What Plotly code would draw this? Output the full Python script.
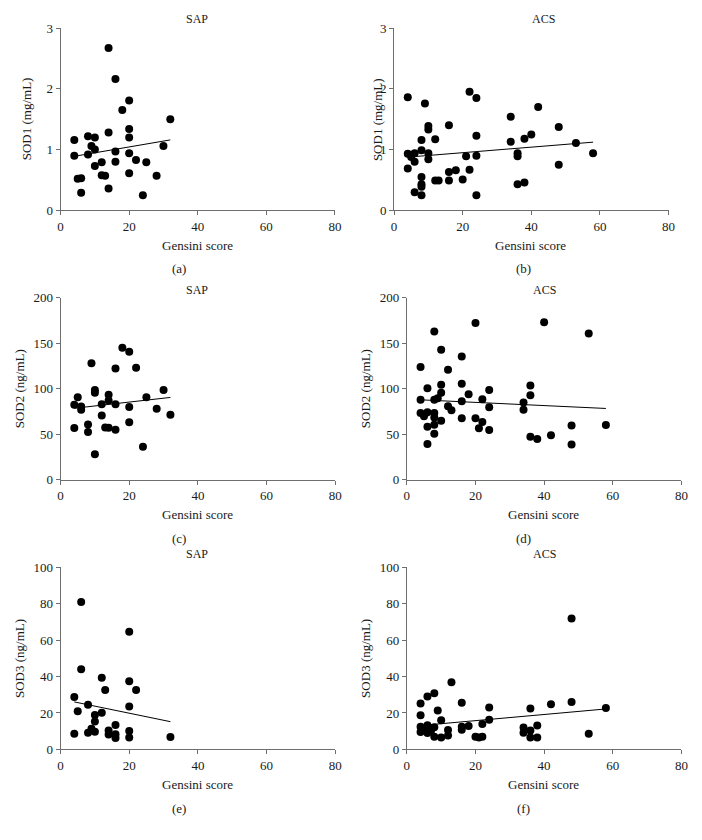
import numpy as np
import plotly.graph_objects as go

# ---------------- data ----------------
gensini_ticks = [0, 20, 40, 60, 80]

# (a) SOD1, SAP
sod1_sap_x = [14, 16, 20, 18, 32, 20, 14, 8, 10, 20, 4, 9, 30, 10, 16, 20, 4, 8, 22, 12, 16, 25,
              10, 20, 12, 13, 28, 5, 6, 14, 6, 24]
sod1_sap_y = [2.67, 2.16, 1.81, 1.65, 1.50, 1.34, 1.28, 1.22, 1.20, 1.20, 1.16, 1.06, 1.06, 1.00,
              0.97, 0.94, 0.90, 0.92, 0.83, 0.79, 0.80, 0.79, 0.73, 0.61, 0.58, 0.57, 0.57, 0.52,
              0.53, 0.36, 0.29, 0.25]

# (b) SOD1, ACS
sod1_acs_x = [4, 9, 22, 24, 34, 10, 10, 16, 8, 12, 24, 34, 38, 40, 42, 48, 53, 58, 48, 4, 8, 6,
              10, 5, 6, 10, 21, 24, 36, 36, 4, 22, 18, 16, 8, 8, 8, 12, 13, 16, 20, 36, 38, 6, 8, 24]
sod1_acs_y = [1.86, 1.76, 1.95, 1.85, 1.54, 1.39, 1.33, 1.40, 1.16, 1.17, 1.23, 1.13, 1.18, 1.25,
              1.70, 1.37, 1.11, 0.94, 0.75, 0.93, 0.99, 0.94, 0.94, 0.88, 0.80, 0.84, 0.89, 0.90,
              0.94, 0.89, 0.69, 0.67, 0.66, 0.63, 0.55, 0.43, 0.39, 0.49, 0.49, 0.49, 0.51, 0.43,
              0.46, 0.30, 0.25, 0.25]

# (c) SOD2, SAP
sod2_sap_x = [18, 20, 9, 16, 22, 10, 10, 30, 5, 14, 14, 25, 4, 6, 6, 12, 16, 20, 28, 32, 12, 8,
              8, 4, 13, 14, 16, 20, 24, 10]
sod2_sap_y = [145, 140.6, 128, 122.3, 123, 98.5, 95.6, 98.5, 90.6, 93.5, 87, 90.6, 82.3, 80.5,
              77, 83, 83, 80, 78, 71.5, 70.5, 60.8, 52.5, 56.8, 57.5, 57, 55, 63.2, 36.3, 28]

# (d) SOD2, ACS
sod2_acs_x = [8, 20, 40, 53, 10, 16, 4, 12, 6, 10, 16, 36, 24, 10, 18, 36, 4, 8, 9, 16, 22, 34,
              34, 12, 13, 24, 4, 5, 6, 8, 8, 10, 16, 20, 22, 6, 8, 8, 21, 24, 36, 38, 42, 48, 58,
              6, 48]
sod2_acs_y = [163, 172.3, 173, 160.8, 142.8, 135.3, 124, 120.9, 100.4, 104.3, 105.4, 103.6, 98.6,
              95.7, 93.9, 92.8, 87.8, 87.8, 89.6, 86.3, 88.5, 84.9, 77, 80.6, 76.3, 79.5, 73.4,
              69.8, 74.1, 73.4, 68.3, 64.7, 67.6, 67.6, 63.3, 58.3, 60.4, 50.4, 56.5, 54.7, 47.1,
              44.6, 48.9, 59.7, 60.1, 39.2, 38.8]

# (e) SOD3, SAP
sod3_sap_x = [4, 4, 5, 6, 6, 8, 8, 9, 10, 10, 10, 12, 12, 13, 14, 14, 16, 16, 16, 20, 20, 20, 20,
              20, 22, 32]
sod3_sap_y = [8.6, 28.8, 21, 81, 44, 24.6, 9.2, 11.3, 18.9, 15.3, 9.7, 39.4, 20.2, 32.7, 10.4,
              8.2, 13.4, 8.3, 6.2, 64.6, 37.4, 23.6, 10.1, 6.5, 32.6, 6.8]

# (f) SOD3, ACS
sod3_acs_x = [48, 13, 8, 6, 4, 16, 42, 48, 4, 9, 24, 36, 58, 10, 24, 18, 16, 16, 22, 38, 34, 34,
              36, 36, 38, 53, 20, 21, 22, 12, 12, 10, 8, 8, 4, 6, 6, 5, 7, 4]
sod3_acs_y = [71.9, 36.9, 30.9, 29.1, 25.2, 25.7, 24.8, 26, 18.7, 21.4, 23, 22.5, 22.7, 16, 16.3,
              12.8, 12.4, 10.8, 14, 13.1, 12, 9.2, 10.4, 6.5, 6.5, 8.6, 7, 6.5, 7, 10.7, 7.7, 6.5,
              12.2, 7, 9.5, 13.3, 9, 11, 10, 12.5]

# linear trend lines as drawn in the reference (slope, intercept), panels a..f
trend_slope = [0.00964, 0.00456, 0.426, -0.176, -0.388, 0.169]
trend_intercept = [0.851, 0.858, 76.8, 88.5, 27.65, 12.42]

# ---------------- layout helpers ----------------
# page body keeps its default 8px margin -> figure sized to fill the 702x840 window exactly
PAGE_MARGIN = 8
W, H = 702 - 2 * PAGE_MARGIN, 840 - 2 * PAGE_MARGIN
FONT = "Liberation Serif, Times New Roman, serif"
AXIS_COLOR = "#6e6e6e"
TEXT_COLOR = "#1a1a1a"


def px(x):
    return (x - PAGE_MARGIN) / W


def py(y):
    return 1 - (y - PAGE_MARGIN) / H


panels = [
    dict(x=sod1_sap_x, y=sod1_sap_y, title="SAP", ylabel="SOD1 (mg/mL)", label="(a)",
         yrange=[0, 3], dtick=1, xdom=(58.3, 336.7), ydom=(21.3, 207),
         title_xy=(196.7, 12), ytitle_x=23.3, xtitle_xy=(197.7, 243), label_xy=(178.3, 266)),
    dict(x=sod1_acs_x, y=sod1_acs_y, title="ACS", ylabel="SOD1 (mg/mL)", label="(b)",
         yrange=[0, 3], dtick=1, xdom=(396.7, 675.3), ydom=(21.3, 207),
         title_xy=(548.7, 12), ytitle_x=379.3, xtitle_xy=(535.3, 243), label_xy=(528.3, 266)),
    dict(x=sod2_sap_x, y=sod2_sap_y, title="SAP", ylabel="SOD2 (ng/mL)", label="(c)",
         yrange=[0, 200], dtick=50, xdom=(58.3, 337), ydom=(296, 481.3),
         title_xy=(196.7, 288), ytitle_x=16.7, xtitle_xy=(197.7, 517), label_xy=(178.3, 541)),
    dict(x=sod2_acs_x, y=sod2_acs_y, title="ACS", ylabel="SOD2 (ng/mL)", label="(d)",
         yrange=[0, 200], dtick=50, xdom=(409.7, 688.3), ydom=(296, 481.3),
         title_xy=(549.7, 288), ytitle_x=367.7, xtitle_xy=(548.7, 517), label_xy=(527.7, 541)),
    dict(x=sod3_sap_x, y=sod3_sap_y, title="SAP", ylabel="SOD3 (ng/mL)", label="(e)",
         yrange=[0, 100], dtick=20, xdom=(58.3, 337), ydom=(570.7, 756),
         title_xy=(196.7, 557), ytitle_x=16.7, xtitle_xy=(197.7, 792), label_xy=(178.3, 816)),
    dict(x=sod3_acs_x, y=sod3_acs_y, title="ACS", ylabel="SOD3 (ng/mL)", label="(f)",
         yrange=[0, 100], dtick=20, xdom=(409.7, 688.3), ydom=(570.7, 756),
         title_xy=(549.7, 557), ytitle_x=367.7, xtitle_xy=(548.7, 792), label_xy=(527.7, 816)),
]

fig = go.Figure()
annotations = []

for i, p in enumerate(panels, start=1):
    xa = "x" if i == 1 else f"x{i}"
    ya = "y" if i == 1 else f"y{i}"
    xs = np.array(p["x"], dtype=float)
    ys = np.array(p["y"], dtype=float)

    fig.add_trace(go.Scatter(
        x=xs, y=ys, mode="markers", xaxis=xa, yaxis=ya,
        marker=dict(color="black", size=8, line=dict(width=0)),
        showlegend=False, hoverinfo="x+y",
    ))

    # trend line over the data's x range
    slope, intercept = trend_slope[i - 1], trend_intercept[i - 1]
    lx = np.array([xs.min(), xs.max()])
    fig.add_trace(go.Scatter(
        x=lx, y=slope * lx + intercept, mode="lines", xaxis=xa, yaxis=ya,
        line=dict(color="black", width=1), showlegend=False, hoverinfo="skip",
    ))

    axis_common = dict(
        showline=True, linecolor=AXIS_COLOR, linewidth=1,
        ticks="outside", ticklen=4, tickcolor=AXIS_COLOR, tickwidth=1,
        showgrid=False, zeroline=False,
        tickfont=dict(family=FONT, size=13, color=TEXT_COLOR),
    )
    fig.update_layout(**{
        ("xaxis" if i == 1 else f"xaxis{i}"): dict(
            domain=[px(p["xdom"][0]), px(p["xdom"][1])], range=[0, 80],
            tickvals=gensini_ticks, anchor=ya, **axis_common),
        ("yaxis" if i == 1 else f"yaxis{i}"): dict(
            domain=[py(p["ydom"][1]), py(p["ydom"][0])], range=p["yrange"],
            tick0=0, dtick=p["dtick"], anchor=xa, **axis_common),
    })

    tf = dict(family=FONT, color=TEXT_COLOR)
    annotations += [
        dict(text=p["title"], x=px(p["title_xy"][0]), y=py(p["title_xy"][1]),
             xref="paper", yref="paper", xanchor="center", yanchor="middle",
             showarrow=False, font=dict(size=12, **tf)),
        dict(text="Gensini score", x=px(p["xtitle_xy"][0]), y=py(p["xtitle_xy"][1]),
             xref="paper", yref="paper", xanchor="center", yanchor="middle",
             showarrow=False, font=dict(size=13, **tf)),
        dict(text=p["label"], x=px(p["label_xy"][0]), y=py(p["label_xy"][1]),
             xref="paper", yref="paper", xanchor="center", yanchor="middle",
             showarrow=False, font=dict(size=13, **tf)),
        dict(text=p["ylabel"], x=px(p["ytitle_x"]),
             y=py((p["ydom"][0] + p["ydom"][1]) / 2),
             xref="paper", yref="paper", xanchor="center", yanchor="middle",
             textangle=-90, showarrow=False, font=dict(size=13, **tf)),
    ]

fig.update_layout(
    width=W, height=H, margin=dict(l=0, r=0, t=0, b=0),
    paper_bgcolor="white", plot_bgcolor="white",
    annotations=annotations, font=dict(family=FONT),
)

fig.write_html("out.html", config={"displayModeBar": False})
